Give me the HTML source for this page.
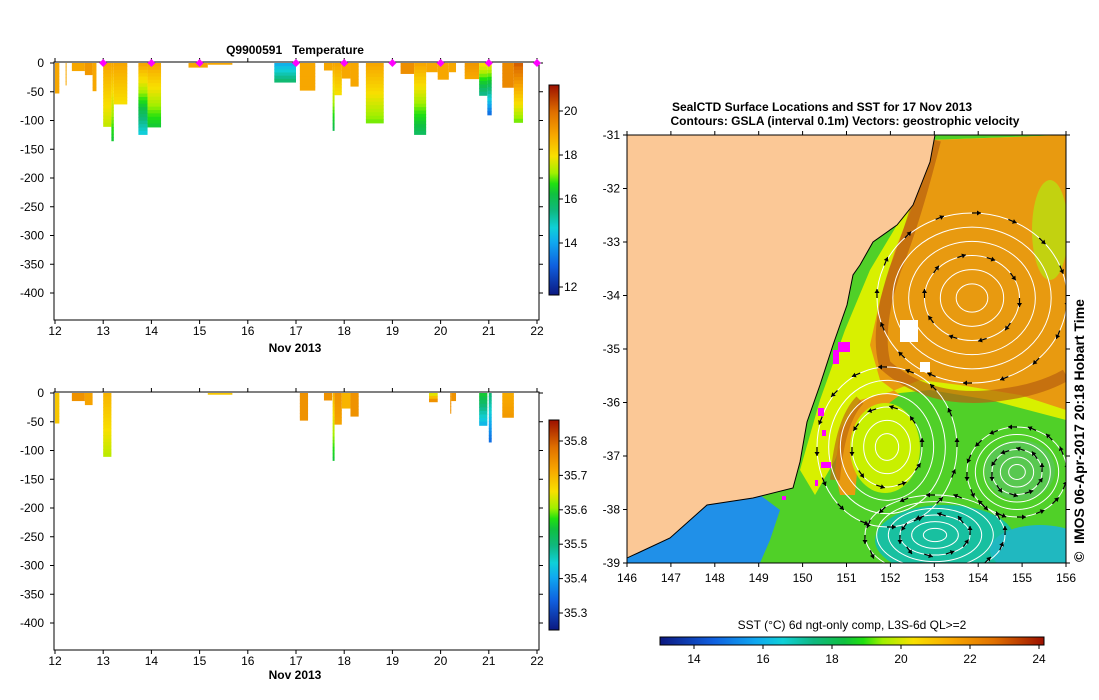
<!DOCTYPE html>
<html><head><meta charset="utf-8">
<style>
html,body{margin:0;padding:0;background:#fff;}
svg{display:block;font-family:"Liberation Sans",sans-serif;}
text{fill:#000;white-space:pre;}
</style></head>
<body>
<svg id="root" width="1099" height="700" viewBox="0 0 1099 700" xmlns="http://www.w3.org/2000/svg">
<defs>
<clipPath id="mapclip"><rect x="627" y="135" width="439" height="428"/></clipPath>
<linearGradient id="cbv" x1="0" y1="1" x2="0" y2="0">
<stop offset="0" stop-color="#0c1880"/><stop offset="0.14" stop-color="#1060e0"/><stop offset="0.25" stop-color="#10a8f0"/>
<stop offset="0.32" stop-color="#10d0d8"/><stop offset="0.4" stop-color="#10b880"/><stop offset="0.48" stop-color="#10c040"/>
<stop offset="0.53" stop-color="#20e010"/><stop offset="0.58" stop-color="#a0f000"/><stop offset="0.66" stop-color="#f8e000"/>
<stop offset="0.76" stop-color="#f8a800"/><stop offset="0.87" stop-color="#e07000"/><stop offset="1" stop-color="#9c1000"/>
</linearGradient>
<linearGradient id="cbh" x1="0" y1="0" x2="1" y2="0">
<stop offset="0" stop-color="#0c1880"/><stop offset="0.14" stop-color="#1060e0"/><stop offset="0.25" stop-color="#10a8f0"/>
<stop offset="0.32" stop-color="#10d0d8"/><stop offset="0.4" stop-color="#10b880"/><stop offset="0.48" stop-color="#10c040"/>
<stop offset="0.53" stop-color="#20e010"/><stop offset="0.58" stop-color="#a0f000"/><stop offset="0.66" stop-color="#f8e000"/>
<stop offset="0.76" stop-color="#f8a800"/><stop offset="0.87" stop-color="#e07000"/><stop offset="1" stop-color="#9c1000"/>
</linearGradient>
</defs>

<text x="295" y="54" text-anchor="middle" font-size="12" font-weight="bold">Q9900591   Temperature</text>
<text x="295" y="352" text-anchor="middle" font-size="12" font-weight="bold">Nov 2013</text>
<text x="295" y="679" text-anchor="middle" font-size="12" font-weight="bold">Nov 2013</text>

<g id="topChart"></g>
<g id="botChart"></g>

<rect x="549" y="85" width="10" height="210" fill="url(#cbv)" stroke="#000"/>
<g id="cb1ticks"></g>
<rect x="549" y="420" width="10" height="210" fill="url(#cbv)" stroke="#000"/>
<g id="cb2ticks"></g>

<text x="822" y="111" text-anchor="middle" font-size="12" font-weight="bold">SealCTD Surface Locations and SST for 17 Nov 2013</text>
<text x="845" y="125" text-anchor="middle" font-size="12" font-weight="bold">Contours: GSLA (interval 0.1m) Vectors: geostrophic velocity</text>
<g clip-path="url(#mapclip)">
<rect x="627" y="135" width="439" height="428" fill="#50d028"/>
<polygon points="800,470 820,400 845,330 870,270 900,220 930,140 1066,135 1066,420 990,400 930,390 880,395 850,420 835,460 815,495" fill="#d8f000"/>
<polygon points="880,300 895,250 915,200 935,140 1066,135 1066,410 1020,395 960,385 920,380 890,392 860,400 840,430 835,470 840,495 855,495 860,440 880,410 900,395 880,380 870,345" fill="#e89a10"/>
<ellipse cx="1050" cy="230" rx="18" ry="50" fill="#b8e010" opacity="0.8"/>
<path d="M935,140 Q915,220 895,270 Q875,330 885,365 Q930,405 1000,395 Q1040,390 1066,375" fill="none" stroke="#b86010" stroke-width="12" opacity="0.7"/>
<path d="M835,480 Q840,420 860,400" fill="none" stroke="#c06a10" stroke-width="10" opacity="0.7"/>
<ellipse cx="885" cy="448" rx="35" ry="45" fill="#c8f000"/>
<ellipse cx="945" cy="540" rx="70" ry="35" fill="#18c0a0"/>
<ellipse cx="1040" cy="550" rx="50" ry="25" fill="#20b8c0"/>
<polygon points="627,563 627,540 680,505 760,495 780,510 770,540 760,563" fill="#2090e8"/>
<ellipse cx="1020" cy="470" rx="35" ry="30" fill="#58c850"/>
<rect x="900" y="320" width="18" height="22" fill="#fff"/>
<rect x="920" y="362" width="10" height="10" fill="#fff"/>
<g id="contours" fill="none" stroke="#fff" stroke-width="1"></g>
<g id="vectors" stroke="#000" stroke-width="1.2" fill="none"></g>
<polygon points="627,135 935,135 930,162 913,205 897,225 873,242 860,265 853,275 847,305 840,325 833,345 820,385 807,422 800,462 793,488 753,498 707,505 670,538 640,552 627,558" fill="#fbc896" stroke="#000" stroke-width="1"/>
<g fill="#ff00ff">
<rect x="838" y="342" width="12" height="10"/><rect x="833" y="350" width="6" height="14"/><rect x="818" y="408" width="6" height="8"/><rect x="822" y="430" width="4" height="6"/><rect x="821" y="462" width="10" height="6"/><rect x="815" y="480" width="3" height="6"/><rect x="782" y="496" width="4" height="4"/>
</g>
</g>
<rect x="627" y="135" width="439" height="428" fill="none" stroke="#000"/>
<g id="mapticks"></g>
<text transform="translate(1084,562) rotate(-90)" font-size="14" font-weight="bold">©  IMOS 06-Apr-2017 20:18 Hobart Time</text>

<text x="852" y="629" text-anchor="middle" font-size="12">SST (°C) 6d ngt-only comp, L3S-6d QL&gt;=2</text>
<rect x="660" y="637" width="384" height="8" fill="url(#cbh)" stroke="#000"/>
<g id="cb3ticks"></g>
</svg>
<script>
// ---- data ----
const tempProfiles_t = [12.0,12.22,12.35,12.62,12.78,13.0,13.17,13.22,13.73,13.92,14.77,15.17,16.55,17.08,17.58,17.76,17.8,17.95,18.13,18.45,19.17,19.45,19.7,19.94,20.17,20.5,20.8,20.97,21.28,21.52];
const tempProfiles_w = [0.09,0.02,0.27,0.16,0.08,0.17,0.05,0.28,0.19,0.28,0.4,0.51,0.45,0.32,0.18,0.04,0.15,0.18,0.17,0.37,0.28,0.25,0.24,0.23,0.15,0.3,0.17,0.09,0.24,0.19];
const tempProfiles_depth = [52,38,13,20,48,110,135,71,124,111,7,2,33,47,12,117,55,26,40,104,18,124,15,28,15,27,56,90,42,103];
const tempProfiles_top = [19,19,19,19.3,19,19,19,19,19,19,19,19,14,19,19,19,19,19,19,19,19.5,19,19,19,19,19.3,18,18,19.6,20.3];
const tempProfiles_bot = [19,19,19,19.3,19,17.5,16.3,18,14.5,16.3,19,19,15.5,19,19,16,18,19,19,17,19.5,15.8,19,19,19,19,15.3,13,19.6,17];
const salProfiles_t = [12.0,12.35,12.62,13.0,15.17,17.08,17.58,17.76,17.8,17.95,18.13,19.76,20.2,20.22,20.8,21.0,21.28];
const salProfiles_w = [0.09,0.27,0.16,0.17,0.51,0.17,0.17,0.04,0.15,0.18,0.17,0.18,0.02,0.1,0.17,0.06,0.24];
const salProfiles_depth = [52,13,20,110,2,47,12,117,54,26,40,15,35,13,56,85,42];
const salProfiles_top = [35.68,35.74,35.72,35.7,35.68,35.74,35.74,35.7,35.74,35.7,35.74,35.64,35.74,35.74,35.55,35.5,35.71];
const salProfiles_bot = [35.68,35.74,35.72,35.62,35.68,35.74,35.74,35.55,35.72,35.7,35.74,35.74,35.74,35.74,35.42,35.35,35.73];
const dayTicks = [12,13,14,15,16,17,18,19,20,21,22];
const depthTicks = [0,-50,-100,-150,-200,-250,-300,-350,-400];
const markerDays = [13,14,15,17,18,19,20,21,22];
const tempCbTicks = [12,14,16,18,20];
const salCbTicks = [35.3,35.4,35.5,35.6,35.7,35.8];
const sstCbTicks = [14,16,18,20,22,24];
const lonTicks = [146,147,148,149,150,151,152,153,154,155,156];
const latTicks = [-31,-32,-33,-34,-35,-36,-37,-38,-39];
const eddyCx=[972,887,1017,935];
const eddyCy=[298,447,472,535];
const eddyRx=[95,70,50,70];
const eddyRy=[85,80,45,40];
const eddyDir=[1,-1,-1,-1];

const NS='http://www.w3.org/2000/svg';
function mk(tag,attrs,parent){const e=document.createElementNS(NS,tag);for(const k in attrs)e.setAttribute(k,attrs[k]);parent.appendChild(e);return e;}
const cstops=[[0,[12,24,128]],[0.14,[16,96,224]],[0.25,[16,168,240]],[0.32,[16,208,216]],[0.4,[16,184,128]],[0.48,[16,192,64]],[0.53,[32,224,16]],[0.58,[160,240,0]],[0.66,[248,224,0]],[0.76,[248,168,0]],[0.87,[224,112,0]],[1,[156,16,0]]];
function cmap(f){f=Math.max(0,Math.min(1,f));for(let i=1;i<cstops.length;i++){if(f<=cstops[i][0]){const a=cstops[i-1],b=cstops[i];const u=(f-a[0])/(b[0]-a[0]);const c=a[1].map((v,j)=>Math.round(v+(b[1][j]-v)*u));return 'rgb('+c.join(',')+')';}}return 'rgb(156,16,0)';}
const xDay=d=>55+(d-12)*48.2;

function drawChart(g,y0,t,w,dep,tp,bt,vmin,vmax){
  const yD=v=>y0+(-v)*0.575;
  const fr=v=>(v-vmin)/(vmax-vmin);
  for(let i=0;i<t.length;i++){
    const n=Math.max(1,Math.round(dep[i]/6));
    for(let k=0;k<n;k++){
      const v=tp[i]+(bt[i]-tp[i])*(k/(Math.max(1,n-1)));
      const r=mk('rect',{x:xDay(t[i]),y:yD(-dep[i]*k/n),width:Math.max(1,w[i]*48.2),height:dep[i]*0.575/n+0.6,fill:cmap(fr(v))},g);
      
      
    }
  }
  const fr1=mk('rect',{x:54,y:y0-1,width:485,height:258,fill:'none',stroke:'#000'},g);
  
  
  dayTicks.forEach(d=>{
    mk('line',{x1:xDay(d),x2:xDay(d),y1:y0-5,y2:y0-1,stroke:'#000'},g);
    mk('line',{x1:xDay(d),x2:xDay(d),y1:y0+257,y2:y0+261,stroke:'#000'},g);
    const tx=mk('text',{x:xDay(d),y:y0+272,'text-anchor':'middle','font-size':12},g);tx.textContent=d;
    
    
  });
  depthTicks.forEach(v=>{
    mk('line',{x1:50,x2:54,y1:yD(v),y2:yD(v),stroke:'#000'},g);
    mk('line',{x1:539,x2:543,y1:yD(v),y2:yD(v),stroke:'#000'},g);
    const tx=mk('text',{x:44,y:yD(v)+4,'text-anchor':'end','font-size':12},g);tx.textContent=v;
    
    
  });
}
const topG=document.getElementById('topChart'),botG=document.getElementById('botChart');
drawChart(topG,63,tempProfiles_t,tempProfiles_w,tempProfiles_depth,tempProfiles_top,tempProfiles_bot,11.3,21.4);
drawChart(botG,393,salProfiles_t,salProfiles_w,salProfiles_depth,salProfiles_top,salProfiles_bot,35.25,35.86);
markerDays.forEach(d=>{
  const m=mk('polygon',{points:[[xDay(d),59],[xDay(d)+4,63],[xDay(d),67],[xDay(d)-4,63]].join(' '),fill:'#ff00ff'},topG);
  
  
});

function cbTicks(id,ticks,v0,y0,pps){
  const g=document.getElementById(id);
  ticks.forEach(v=>{const y=y0-(v-v0)*pps;
    mk('line',{x1:559,x2:563,y1:y,y2:y,stroke:'#000'},g);
    const t=mk('text',{x:564,y:y+4,'font-size':12},g);t.textContent=v;
    
    });
}
cbTicks('cb1ticks',tempCbTicks,20,111,22);
cbTicks('cb2ticks',salCbTicks,35.8,441,344);
(function(){const g=document.getElementById('cb3ticks');
  sstCbTicks.forEach(v=>{const x=694+(v-14)*34.5;
    mk('line',{x1:x,x2:x,y1:645,y2:649,stroke:'#000'},g);
    const t=mk('text',{x:x,y:663,'text-anchor':'middle','font-size':12},g);t.textContent=v;
    
    });})();

(function(){const g=document.getElementById('mapticks');
  const xL=lo=>627+(lo-146)*43.9, yL=la=>135+(-31-la)*53.5;
  lonTicks.forEach(lo=>{const x=xL(lo);
    mk('line',{x1:x,x2:x,y1:131,y2:135,stroke:'#000'},g);mk('line',{x1:x,x2:x,y1:563,y2:567,stroke:'#000'},g);
    const t=mk('text',{x:x,y:582,'text-anchor':'middle','font-size':12},g);t.textContent=lo;
    
    });
  latTicks.forEach(la=>{const y=yL(la);
    mk('line',{x1:623,x2:627,y1:y,y2:y,stroke:'#000'},g);mk('line',{x1:1066,x2:1070,y1:y,y2:y,stroke:'#000'},g);
    const t=mk('text',{x:620,y:y+4,'text-anchor':'end','font-size':12},g);t.textContent=la;
    
    });
})();

(function(){const c=document.getElementById('contours'),v=document.getElementById('vectors');
  for(let e=0;e<eddyCx.length;e++){
    for(let k=1;k<=6;k++){const f=k/6;
      mk('ellipse',{cx:eddyCx[e],cy:eddyCy[e],rx:eddyRx[e]*f,ry:eddyRy[e]*f},c);}
    for(let k=3;k<=6;k+=3){const f=k/6;const n=Math.round(4+k*2);
      for(let j=0;j<n;j++){const a=j/n*2*Math.PI;
        const x=eddyCx[e]+eddyRx[e]*f*Math.cos(a), y=eddyCy[e]+eddyRy[e]*f*Math.sin(a);
        const tx=-Math.sin(a)*eddyDir[e], ty=Math.cos(a)*eddyDir[e];
        const L=9, x2=x+tx*L, y2=y+ty*L;
        mk('line',{x1:x,y1:y,x2:x2,y2:y2},v);
        mk('polygon',{points:[[x2,y2],[x2-tx*4-ty*2.5,y2-ty*4+tx*2.5],[x2-tx*4+ty*2.5,y2-ty*4-tx*2.5]].join(' '),fill:'#000',stroke:'none'},v);
      }}
  }
})();
</script>
</body></html>
